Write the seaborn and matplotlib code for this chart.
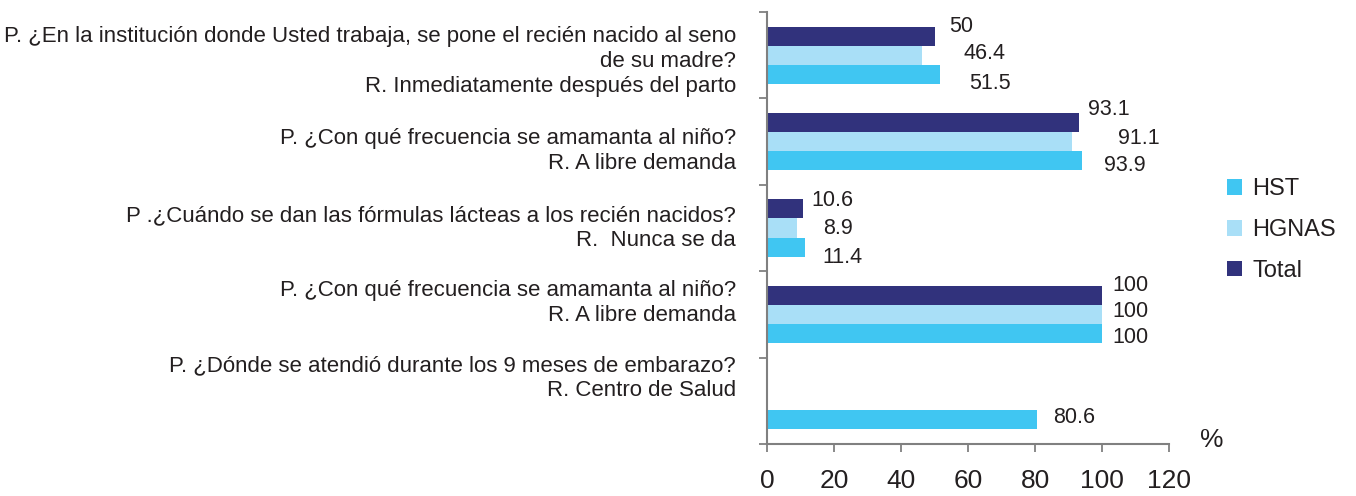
import numpy as np
import pandas as pd
import matplotlib
matplotlib.use('Agg')
import matplotlib.pyplot as plt
from matplotlib.patches import Patch
import seaborn as sns

# Data
questions = [
    "P. ¿En la institución donde Usted trabaja, se pone el recién nacido al seno\nde su madre?\nR. Inmediatamente después del parto",
    "P. ¿Con qué frecuencia se amamanta al niño?\nR. A libre demanda",
    "P .¿Cuándo se dan las fórmulas lácteas a los recién nacidos?\nR.  Nunca se da",
    "P. ¿Con qué frecuencia se amamanta al niño?\nR. A libre demanda",
    "P. ¿Dónde se atendió durante los 9 meses de embarazo?\nR. Centro de Salud",
]
series = ['Total', 'HGNAS', 'HST']
total = [50, 93.1, 10.6, 100, np.nan]
hgnas = [46.4, 91.1, 8.9, 100, np.nan]
hst = [51.5, 93.9, 11.4, 100, 80.6]
xticks = [0, 20, 40, 60, 80, 100, 120]

# Style
COLORS = {'Total': '#31327C', 'HGNAS': '#A9DFF7', 'HST': '#40C6F2'}
TEXT_COLOR = '#231F20'
SPINE_COLOR = '#808080'
# label offsets (px) from bar end: dx, dy (down positive)
LABEL_OFFSETS = {
    'Total': [(15, -10), (9, -13), (9, -8), (10, -10), (0, 0)],
    'HGNAS': [(41, -2), (46, -3), (26, 0), (10, -3), (0, 0)],
    'HST': [(30, 9), (22, 5), (17, 10), (10, 4), (16, -2)],
}
# vertical shift (px, down positive) of each question text from its row centre
QUESTION_SHIFT = [6, 9, 0, -11, -23]

sns.set_theme(style='white')
plt.rcParams['font.family'] = ['Liberation Sans', 'DejaVu Sans']

# questions 2 and 4 share the same text, so key the rows by position
keys = [f"q{i}" for i in range(len(questions))]
df = pd.DataFrame({'q': keys, 'Total': total, 'HGNAS': hgnas, 'HST': hst})
df_long = df.melt(id_vars='q', value_vars=series, var_name='serie', value_name='pct')

fig = plt.figure(figsize=(13.56, 4.96), dpi=100)
ax = fig.add_axes([767 / 1356, 1 - 444 / 496, (1169 - 767) / 1356, (444 - 12) / 496])

sns.barplot(data=df_long, y='q', x='pct', hue='serie', hue_order=series,
            order=keys, palette=COLORS, orient='h', width=0.66, saturation=1,
            errorbar=None, linewidth=0, legend=False, ax=ax)

ax.set_xlim(0, 120)
ax.set_ylim(4.5, -0.5)
ax.set_xlabel('')
ax.set_ylabel('')

px = 0.72
n = len(questions)

# value labels
dodge = 0.66 / 3
for i, s in enumerate(series):
    vals = df[s].values
    for j, v in enumerate(vals):
        if np.isnan(v):
            continue
        y = j - 0.66 / 2 + dodge * (i + 0.5)
        dx, dy = LABEL_OFFSETS[s][j]
        ax.annotate(f"{v:g}", xy=(v, y), xytext=(dx * px, -dy * px),
                    textcoords='offset points', ha='left', va='center',
                    fontsize=15.5, color=TEXT_COLOR, annotation_clip=False)

# question labels
ax.set_yticks(range(n))
ax.set_yticklabels([])
ax.tick_params(axis='y', which='major', length=0)
for j, q in enumerate(questions):
    ax.annotate(q, xy=(0, j), xytext=(-31 * px, -QUESTION_SHIFT[j] * px),
                textcoords='offset points', ha='right', va='center',
                multialignment='right', linespacing=1.25,
                fontsize=16, color=TEXT_COLOR, annotation_clip=False)

# axes styling
for side in ['top', 'right']:
    ax.spines[side].set_visible(False)
for side in ['left', 'bottom']:
    ax.spines[side].set_color(SPINE_COLOR)
    ax.spines[side].set_linewidth(1.5)

ax.set_xticks(xticks)
ax.set_xticklabels([str(t) for t in xticks], fontsize=19, color=TEXT_COLOR)
ax.tick_params(axis='x', which='major', direction='out', length=6, width=1.3,
               color=SPINE_COLOR, pad=12, bottom=True)

ax.set_yticks(np.arange(-0.5, n, 1), minor=True)
ax.tick_params(axis='y', which='minor', direction='out', length=6, width=1.3,
               color=SPINE_COLOR, left=True)

fig.text(1212 / 1356, 1 - 440 / 496, '%', ha='center', va='center',
         fontsize=19, color=TEXT_COLOR)

handles = [Patch(facecolor=COLORS[s], edgecolor='none', label=s) for s in ['HST', 'HGNAS', 'Total']]
fig.legend(handles=handles, loc='center left', bbox_to_anchor=(1227 / 1356, 1 - 230 / 496),
           frameon=False, fontsize=17, handlelength=0.65, handleheight=0.65,
           handletextpad=0.42, labelspacing=0.8, borderpad=0, borderaxespad=0,
           labelcolor=TEXT_COLOR)

fig.savefig('out.png', dpi=100)
